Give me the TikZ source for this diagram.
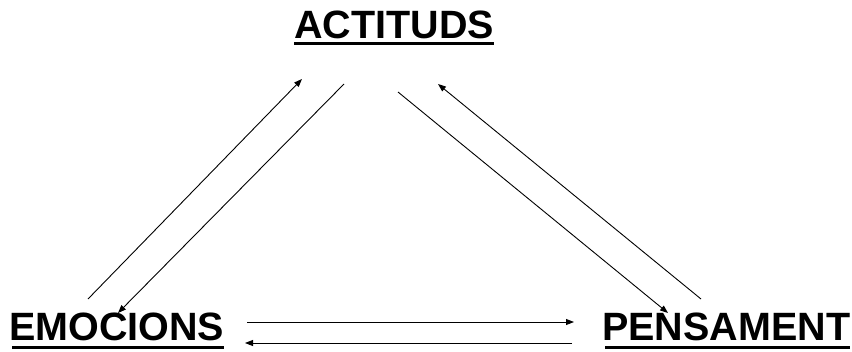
\documentclass[tikz,border=0pt]{standalone}
\usepackage{fontspec}
\setmainfont{Liberation Sans}
\usetikzlibrary{arrows.meta}
\begin{document}
\begin{tikzpicture}[x=1pt,y=-1pt,
  lbl/.style={inner sep=0pt,anchor=base west,font=\fontsize{39.5}{42}\selectfont\bfseries},
  uline/.style={line width=3pt},
  conn/.style={line width=0.9pt,-{Triangle[length=8pt,width=6pt]}}]
\useasboundingbox (0,0) rectangle (852,351);
\node[lbl] (act) at (294,38) {ACTITUDS};
\node[lbl] (emo) at (9,340) {EMOCIONS};
\node[lbl] (pen) at (602,340) {PENSAMENT};
\draw[uline] ([yshift=-5.5pt]act.base west) -- ([yshift=-5.5pt]act.base east);
\draw[uline] ([xshift=3pt,yshift=-7pt]emo.base west) -- ([yshift=-7pt]emo.base east);
\draw[uline] ([xshift=3pt,yshift=-7pt]pen.base west) -- ([yshift=-7pt]pen.base east);
% endpoints
\coordinate (e1) at (88,299);
\coordinate (a1) at (302,79);
\coordinate (a2) at (344,84);
\coordinate (e2) at (118,313);
\coordinate (a3) at (398,92);
\coordinate (p3) at (668,313);
\coordinate (p4) at (701,299);
\coordinate (a4) at (438,84);
\coordinate (h1) at (247,322);
\coordinate (h2) at (574,322);
\coordinate (h3) at (572,343);
\coordinate (h4) at (245,343);
\draw[conn] (e1) -- (a1);
\draw[conn] (a2) -- (e2);
\draw[conn] (a3) -- (p3);
\draw[conn] (p4) -- (a4);
\draw[conn] (h1) -- (h2);
\draw[conn] (h3) -- (h4);
\end{tikzpicture}
\end{document}
